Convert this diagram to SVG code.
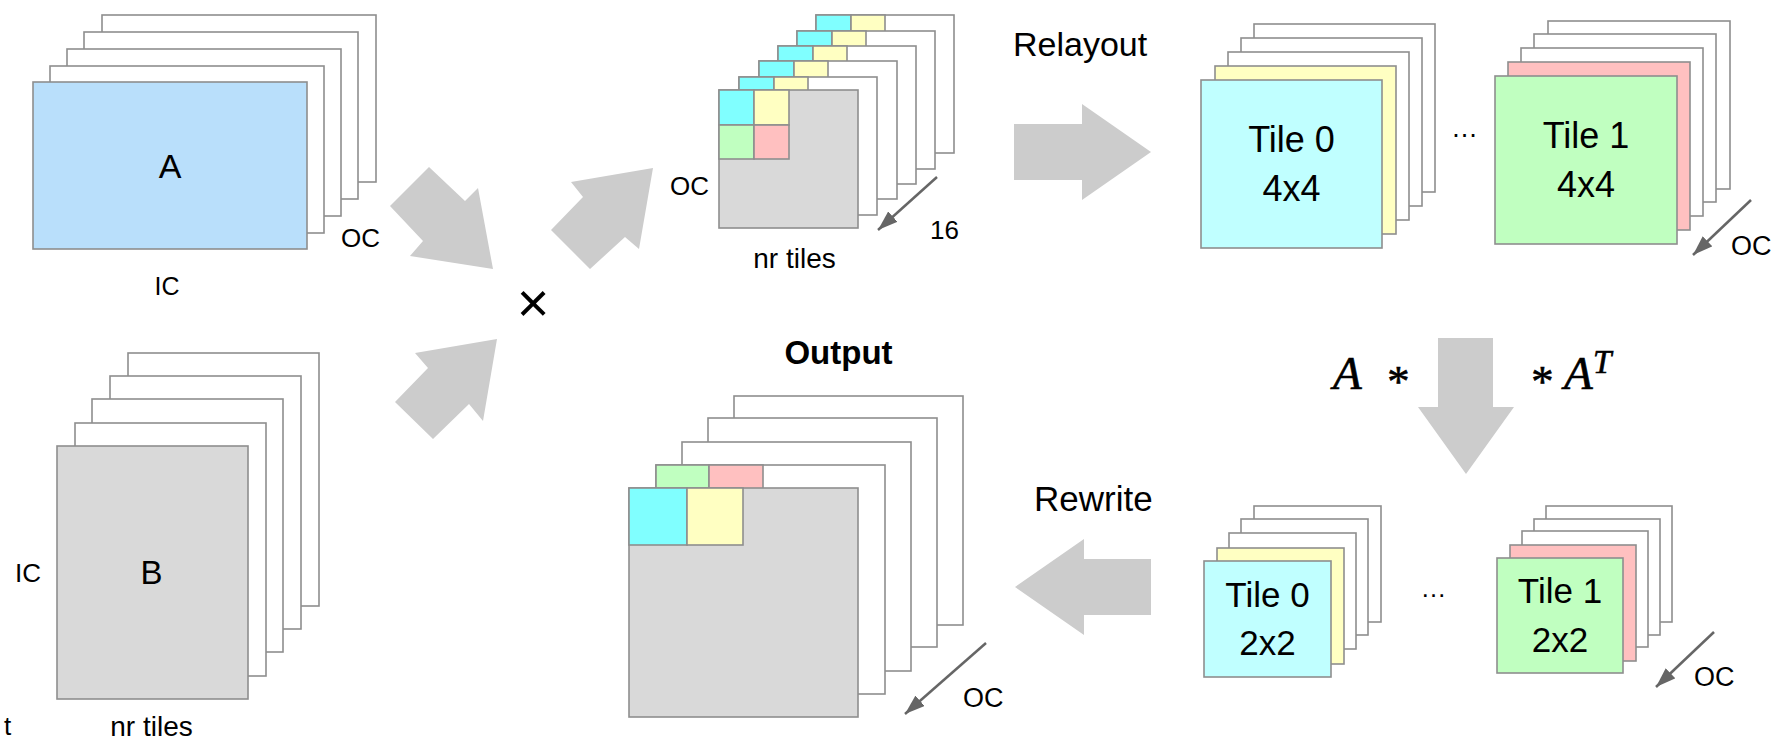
<svg xmlns="http://www.w3.org/2000/svg" width="1775" height="739" viewBox="0 0 1775 739">
<style>
text{font-family:"Liberation Sans",Arial,sans-serif;fill:#000}
.r{stroke:#8e8e8e;stroke-width:1.6}
.w{fill:#fff}.g{fill:#d9d9d9}.ab{fill:#b9dffb}.cy{fill:#80ffff}.ye{fill:#ffffc2}
.gr{fill:#c0ffc0}.pk{fill:#ffc0c0}.lc{fill:#c0ffff}
.big{fill:#cccccc}
.sm{stroke:#666;stroke-width:2.5;fill:none}
.m{font-family:"Liberation Serif","Times New Roman",serif;font-style:italic;stroke:#000;stroke-width:0.6}
</style>
<defs>
<marker id="ah" viewBox="0 0 20 14" refX="20" refY="7" markerWidth="20" markerHeight="14" markerUnits="userSpaceOnUse" orient="auto">
<path d="M0,0 L20,7 L0,14 z" fill="#666"/>
</marker>
</defs>
<rect width="1775" height="739" fill="#fff"/>

<g id="stackA">
<rect class="r w" x="102" y="15" width="274" height="167"/>
<rect class="r w" x="84" y="32" width="274" height="167"/>
<rect class="r w" x="67" y="49" width="274" height="167"/>
<rect class="r w" x="50" y="66" width="274" height="167"/>
<rect class="r ab" x="33" y="82" width="274" height="167"/>
<text x="170" y="178" font-size="34" text-anchor="middle">A</text>
<text x="341" y="247" font-size="26">OC</text>
<text x="167" y="295" font-size="25" text-anchor="middle">IC</text>
</g>

<g id="stackB">
<rect class="r w" x="128" y="353" width="191" height="253"/>
<rect class="r w" x="110" y="376" width="191" height="253"/>
<rect class="r w" x="92" y="399" width="191" height="253"/>
<rect class="r w" x="75" y="423" width="191" height="253"/>
<rect class="r g" x="57" y="446" width="191" height="253"/>
<text x="151.5" y="584" font-size="33" text-anchor="middle">B</text>
<text x="15" y="582" font-size="26">IC</text>
<text x="151.5" y="736" font-size="28" text-anchor="middle">nr tiles</text>
<text x="4" y="735" font-size="26">t</text>
</g>

<g id="times">
<text x="533" y="322" font-size="56" text-anchor="middle">×</text>
</g>

<g id="stackMid">
<rect class="r w" x="816" y="15" width="138" height="138"/>
<rect class="r cy" x="816" y="15" width="35" height="35"/><rect class="r ye" x="851" y="15" width="34" height="35"/>
<rect class="r w" x="797" y="31" width="138" height="138"/>
<rect class="r cy" x="797" y="31" width="35" height="35"/><rect class="r ye" x="832" y="31" width="34" height="35"/>
<rect class="r w" x="778" y="46" width="138" height="138"/>
<rect class="r cy" x="778" y="46" width="35" height="35"/><rect class="r ye" x="813" y="46" width="34" height="35"/>
<rect class="r w" x="759" y="61" width="138" height="138"/>
<rect class="r cy" x="759" y="61" width="35" height="35"/><rect class="r ye" x="794" y="61" width="34" height="35"/>
<rect class="r w" x="739" y="77" width="138" height="138"/>
<rect class="r cy" x="739" y="77" width="35" height="35"/><rect class="r ye" x="774" y="77" width="34" height="35"/>
<rect class="r g" x="719" y="90" width="139" height="138"/>
<rect class="r cy" x="719" y="90" width="35" height="35"/>
<rect class="r ye" x="754" y="90" width="35" height="35"/>
<rect class="r gr" x="719" y="125" width="35" height="34"/>
<rect class="r pk" x="754" y="125" width="35" height="34"/>
<text x="670" y="195" font-size="26">OC</text>
<text x="930" y="239" font-size="26">16</text>
<text x="794.5" y="268" font-size="28" text-anchor="middle">nr tiles</text>
</g>

<g id="relayoutLabel">
<text x="1013" y="56" font-size="34">Relayout</text>
</g>

<g id="tile0Top">
<rect class="r w" x="1254" y="24" width="181" height="168"/>
<rect class="r w" x="1241" y="38" width="181" height="168"/>
<rect class="r w" x="1228" y="52" width="181" height="168"/>
<rect class="r ye" x="1215" y="66" width="181" height="168"/>
<rect class="r lc" x="1201" y="80" width="181" height="168"/>
<text x="1291.5" y="152" font-size="36" text-anchor="middle">Tile 0</text>
<text x="1291.5" y="201" font-size="36" text-anchor="middle">4x4</text>
</g>
<text x="1464.5" y="137" font-size="27" text-anchor="middle">…</text>

<g id="tile1Top">
<rect class="r w" x="1548" y="21" width="182" height="168"/>
<rect class="r w" x="1534" y="34" width="182" height="168"/>
<rect class="r w" x="1521" y="48" width="182" height="168"/>
<rect class="r pk" x="1508" y="62" width="182" height="168"/>
<rect class="r gr" x="1495" y="76" width="182" height="168"/>
<text x="1586" y="148" font-size="36" text-anchor="middle">Tile 1</text>
<text x="1586" y="197" font-size="36" text-anchor="middle">4x4</text>
<text x="1731" y="255" font-size="27">OC</text>
</g>

<g id="math">
<text class="m" x="1333" y="389" font-size="47">A</text>
<text class="m" x="1385" y="396" font-size="45" font-style="normal">*</text>
<text class="m" x="1529" y="396" font-size="45" font-style="normal">*</text>
<text class="m" x="1564" y="389" font-size="47">A</text>
<text class="m" x="1593" y="373" font-size="33">T</text>
</g>

<g id="tile0Bot">
<rect class="r w" x="1254" y="506" width="127" height="116"/>
<rect class="r w" x="1241" y="519" width="127" height="116"/>
<rect class="r w" x="1229" y="533" width="127" height="116"/>
<rect class="r ye" x="1217" y="548" width="127" height="116"/>
<rect class="r lc" x="1204" y="561" width="127" height="116"/>
<text x="1267.5" y="607" font-size="35" text-anchor="middle">Tile 0</text>
<text x="1267.5" y="655" font-size="35" text-anchor="middle">2x2</text>
</g>
<text x="1433.5" y="597" font-size="26" text-anchor="middle">…</text>

<g id="tile1Bot">
<rect class="r w" x="1546" y="506" width="126" height="116"/>
<rect class="r w" x="1534" y="519" width="126" height="116"/>
<rect class="r w" x="1522" y="531" width="126" height="116"/>
<rect class="r pk" x="1510" y="545" width="126" height="116"/>
<rect class="r gr" x="1497" y="558" width="126" height="115"/>
<text x="1560" y="603" font-size="35" text-anchor="middle">Tile 1</text>
<text x="1560" y="652" font-size="35" text-anchor="middle">2x2</text>
<text x="1694" y="686" font-size="27">OC</text>
</g>

<g id="output">
<text x="838.5" y="364" font-size="33" font-weight="bold" text-anchor="middle">Output</text>
<rect class="r w" x="734" y="396" width="229" height="229"/>
<rect class="r w" x="708" y="418" width="229" height="229"/>
<rect class="r w" x="682" y="442" width="229" height="229"/>
<rect class="r w" x="656" y="465" width="229" height="229"/>
<rect class="r gr" x="656" y="465" width="53" height="57"/>
<rect class="r pk" x="709" y="465" width="54" height="57"/>
<rect class="r g" x="629" y="488" width="229" height="229"/>
<rect class="r cy" x="629" y="488" width="58" height="57"/>
<rect class="r ye" x="687" y="488" width="56" height="57"/>
<text x="963" y="707" font-size="27">OC</text>
</g>

<g id="rewriteLabel">
<text x="1034" y="511" font-size="35">Rewrite</text>
</g>

<g id="connectors">
<polygon class="big" points="390,206 429,167 465,201 478,188 493,269 410,256 423,241"/>
<polygon class="big" points="395,402 433,439 469,404 483,421 497,339 415,353 428,368"/>
<polygon class="big" points="551,230 583,197 571,182 653,168 639,249 625,237 590,269"/>
<polygon class="big" points="1014,124 1082,124 1082,104 1151,152 1082,200 1082,180 1014,180"/>
<polygon class="big" points="1438,338 1493,338 1493,407 1514,407 1466,474 1418,407 1438,407"/>
<polygon class="big" points="1151,559 1084,559 1084,539 1015,587 1084,635 1084,615 1151,615"/>
<line class="sm" x1="937" y1="177" x2="878" y2="230" marker-end="url(#ah)"/>
<line class="sm" x1="1751" y1="200" x2="1693" y2="255" marker-end="url(#ah)"/>
<line class="sm" x1="986" y1="643" x2="905" y2="714" marker-end="url(#ah)"/>
<line class="sm" x1="1714" y1="632" x2="1656" y2="687" marker-end="url(#ah)"/>
</g>
</svg>
